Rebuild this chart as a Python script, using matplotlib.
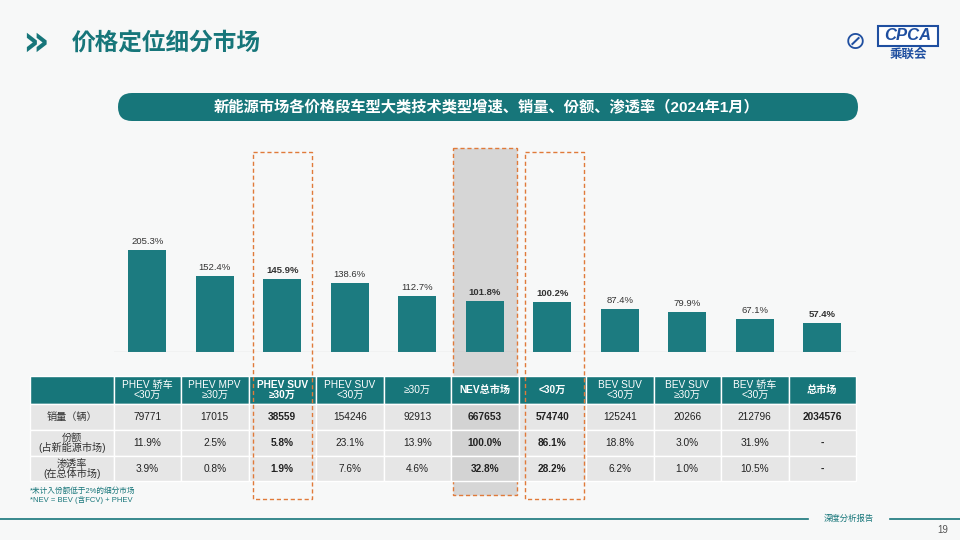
import matplotlib
matplotlib.use("Agg")
import matplotlib.pyplot as plt
from matplotlib.patches import Rectangle, FancyBboxPatch

plt.rcParams['font.family'] = ['Liberation Sans', 'Noto Sans CJK JP', 'DejaVu Sans']

categories = ["PHEV 轿车\n<30万", "PHEV MPV\n≥30万", "PHEV SUV\n≥30万", "PHEV SUV\n<30万", "≥30万",
              "NEV总市场", "<30万", "BEV SUV\n<30万", "BEV SUV\n≥30万", "BEV 轿车\n<30万", "总市场"]
growth = [205.3, 152.4, 145.9, 138.6, 112.7, 101.8, 100.2, 87.4, 79.9, 67.1, 57.4]
sales = ["79771", "17015", "38559", "154246", "92913", "667653", "574740", "125241", "20266", "212796", "2034576"]
share = ["11.9%", "2.5%", "5.8%", "23.1%", "13.9%", "100.0%", "86.1%", "18.8%", "3.0%", "31.9%", "-"]
penetration = ["3.9%", "0.8%", "1.9%", "7.6%", "4.6%", "32.8%", "28.2%", "6.2%", "1.0%", "10.5%", "-"]
row_labels = ["销量（辆）", "份额\n(占新能源市场)", "渗透率\n(在总体市场)"]
bold_cols = [2, 5, 6, 10]

TEAL = "#17767a"
BAR = "#1c7b80"
BG = "#f7f8f8"

fig = plt.figure(figsize=(9.6, 5.4), dpi=100)
fig.patch.set_facecolor(BG)
ax0 = fig.add_axes([0, 0, 1, 1])
ax0.set_xlim(0, 960); ax0.set_ylim(540, 0); ax0.axis("off")

# header
ax0.text(22, 43, "»", fontsize=30, color=TEAL, fontweight="bold", va="center", ha="left", family="DejaVu Sans")
ax0.text(72, 43, "价格定位细分市场", fontsize=17, color=TEAL, fontweight="bold", va="center")
ax0.add_patch(Rectangle((878, 26), 60, 20, facecolor="white", edgecolor="#1f4fa0", lw=1.5))
ax0.text(908, 36, "CPCA", fontsize=12, color="#1f4fa0", style="italic", fontweight="bold", ha="center", va="center")
ax0.text(908, 55, "乘联会", fontsize=9, color="#1f4fa0", fontweight="bold", ha="center", va="center")
ax0.text(855, 42, "⊘", fontsize=18, color="#1f4fa0", ha="center", va="center", family="DejaVu Sans")

# title banner
ax0.add_patch(FancyBboxPatch((118, 93), 740, 28, boxstyle="round,pad=0,rounding_size=14",
                             facecolor=TEAL, edgecolor="none"))
ax0.text(487, 107, "新能源市场各价格段车型大类技术类型增速、销量、份额、渗透率（2024年1月）",
         fontsize=11, color="white", fontweight="bold", ha="center", va="center")

# highlights
ax0.add_patch(Rectangle((453, 148), 64, 347, facecolor="#d6d6d6", edgecolor="#e07a3a", lw=1, ls=(0, (3, 2)), zorder=0))
for x0 in (253, 525):
    ax0.add_patch(Rectangle((x0, 152), 59, 347, facecolor="none", edgecolor="#e07a3a", lw=1, ls=(0, (3, 2)), zorder=5))

# bars
slot = 67.5
left = 113.5
axb = fig.add_axes([left / 960, (540 - 352) / 540, 11 * slot / 960, 200 / 540])
axb.patch.set_alpha(0)
xs = list(range(len(categories)))
axb.bar(xs, growth, width=0.56, color=BAR)
for i, v in enumerate(growth):
    axb.text(i, v + 8, f"{v:.1f}%", ha="center", va="bottom", fontsize=6.8, color="#333333",
             fontweight="bold" if i in bold_cols else "normal")
axb.set_xlim(-0.5, 10.5); axb.set_ylim(0, 402)
axb.axis("off")
axb.axhline(0, color="#999999", lw=0.8)

# table
rows_y = [(376, 404), (404, 430), (430, 456), (456, 481)]
ax0.add_patch(Rectangle((30, 376), left - 30, 28, facecolor=TEAL, edgecolor="white", lw=1))
for i, c in enumerate(categories):
    x0 = left + i * slot
    ax0.add_patch(Rectangle((x0, 376), slot, 28, facecolor=TEAL, edgecolor="white", lw=1))
    ax0.text(x0 + slot / 2, 390, c, color="white", fontsize=7.3, ha="center", va="center", linespacing=0.9,
             fontweight="bold" if i in bold_cols else "normal")
data_rows = [sales, share, penetration]
for r, (vals, (y0, y1)) in enumerate(zip(data_rows, rows_y[1:])):
    ax0.add_patch(Rectangle((30, y0), left - 30, y1 - y0, facecolor="#e6e6e6", edgecolor="white", lw=1))
    ax0.text((30 + left) / 2, (y0 + y1) / 2, row_labels[r], fontsize=7.3, color="#333333",
             ha="center", va="center", linespacing=0.9)
    for i, v in enumerate(vals):
        x0 = left + i * slot
        ax0.add_patch(Rectangle((x0, y0), slot, y1 - y0,
                                facecolor="#d3d3d3" if i == 5 else "#e6e6e6", edgecolor="white", lw=1))
        ax0.text(x0 + slot / 2, (y0 + y1) / 2, v, fontsize=7.3, color="#222222", ha="center", va="center",
                 fontweight="bold" if i in bold_cols else "normal")

ax0.text(30, 491, "*未计入份额低于2%的细分市场", fontsize=5.5, color=TEAL, va="center")
ax0.text(30, 500, "*NEV = BEV (含FCV) + PHEV", fontsize=5.5, color=TEAL, va="center")

# footer
ax0.plot([0, 808], [519, 519], color=TEAL, lw=1.2)
ax0.plot([890, 960], [519, 519], color=TEAL, lw=1.2)
ax0.text(849, 519, "深度分析报告", fontsize=6, color=TEAL, ha="center", va="center", style="italic")
ax0.text(948, 530, "19", fontsize=7, color="#555555", ha="right", va="center")

fig.savefig("out.png", dpi=100, facecolor=BG)
